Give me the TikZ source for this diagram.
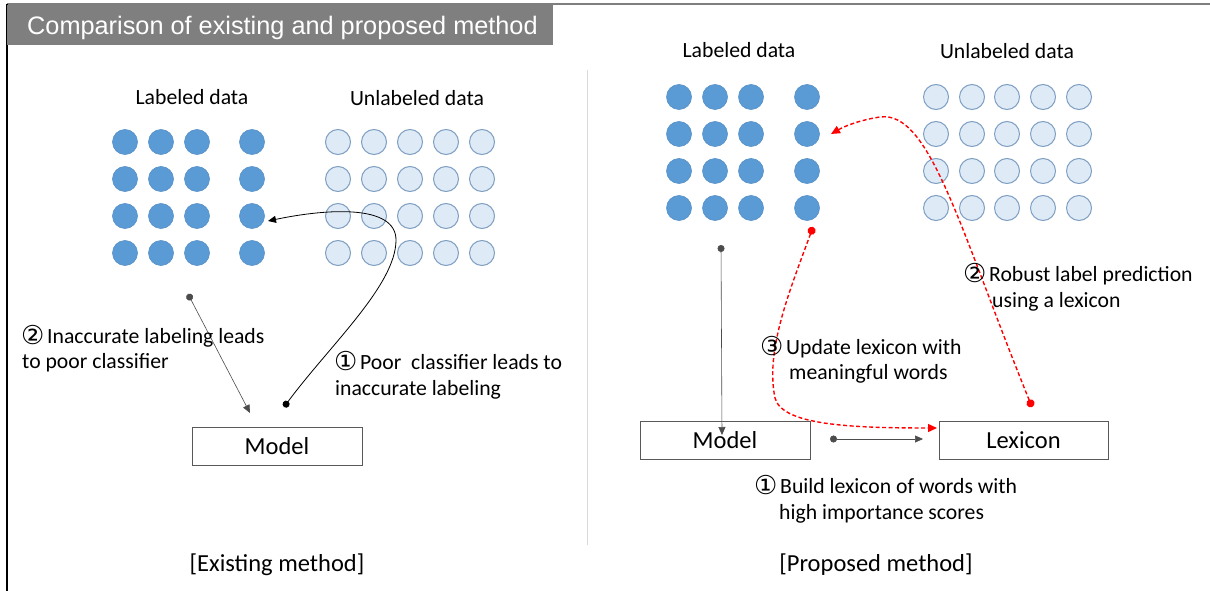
\documentclass[tikz,border=0pt]{standalone}
\usepackage{fontspec}
\setmainfont{Carlito}
\newfontfamily\titlefont{Liberation Sans}
\newfontfamily\symfont{DejaVu Sans}
\usetikzlibrary{arrows.meta}
\newcommand\circnum[1]{\makebox[26pt][l]{\raisebox{-1.5pt}{\symfont\fontsize{26}{28}\selectfont #1}}}
\definecolor{labfill}{HTML}{5B9BD5}
\definecolor{labdraw}{HTML}{5590C8}
\definecolor{unlfill}{HTML}{DEEBF7}
\definecolor{unldraw}{HTML}{7F9FC2}
\definecolor{titlegray}{HTML}{7F7F7F}
\definecolor{boxgray}{HTML}{595959}
\definecolor{divgray}{HTML}{D9D9D9}
\definecolor{redline}{HTML}{FF0000}
\begin{document}
\begin{tikzpicture}[x=1pt,y=-1pt,
  lab/.style={circle,minimum size=25pt,inner sep=0pt,fill=labfill,draw=labdraw,line width=0.6pt},
  unl/.style={circle,minimum size=25pt,inner sep=0pt,fill=unlfill,draw=unldraw,line width=1pt},
  boxnode/.style={draw=boxgray,line width=0.9pt,minimum width=170pt,minimum height=38pt,inner sep=0pt,font=\fontsize{24.5}{28}\selectfont},
  txt/.style={font=\fontsize{21.7}{26}\selectfont,inner sep=0pt,anchor=base west},
  head/.style={font=\fontsize{21.7}{26}\selectfont,inner sep=0pt,anchor=base},
  blk/.style={line width=0.8pt,black,{Circle[length=7pt]}-{Triangle[length=8pt,width=7pt]}},
  gry/.style={line width=0.6pt,black!70,{Circle[length=7pt]}-{Triangle[length=8pt,width=7pt]}},
  rdash/.style={line width=1.4pt,redline,dash pattern=on 4pt off 2.5pt,{Circle[length=8pt]}-{Triangle[length=9pt,width=8pt]}}
]
\useasboundingbox (0,0) rectangle (1210,591);
\fill[white] (0,0) rectangle (1210,591);
% frame
\draw[titlegray,line width=1.5pt] (7,4) -- (1210,4);
\draw[black,line width=1.2pt] (7,4) -- (7,591);
\fill[titlegray] (7,5) rectangle (553,45);
\node[inner sep=0pt,anchor=base west,text=white,font=\titlefont\fontsize{25.3}{30}\selectfont] (title) at (27,35) {Comparison of existing and proposed method};
\draw[divgray,line width=1pt] (587,70) -- (587,545);

% ---------------- left panel
\node[head] (lhl) at (192,105) {Labeled data};
\node[head] (lhu) at (417,106) {Unlabeled data};
\foreach \r/\y in {1/142,2/179,3/216,4/253}{
  \foreach \c/\x in {1/125,2/161,3/197,4/252}{
    \node[lab] (LL\r\c) at (\x,\y) {};
  }
  \foreach \c/\x in {1/338,2/374,3/410,4/446,5/482}{
    \node[unl] (LU\r\c) at (\x,\y) {};
  }
}
\node[boxnode] (lmodel) at (277,446.5) {Model};
\coordinate (la1) at (188,294);
\coordinate (la2) at (250,413);
\coordinate (lb1) at (284,407);
\coordinate (lbm) at (396,240);
\coordinate (lb2) at (268,221);
\draw[gry] (la1) -- (la2);
\draw[blk] (lb1) .. controls (330,345) and (396,285) .. (lbm) .. controls (396,205) and (330,208) .. (lb2);
\node[txt] (ll1) at (21,343) {\circnum{②}Inaccurate labeling leads};
\node[txt] (ll2) at (22,368) {to poor classifier};
\node[txt] (lr1) at (334,369) {\circnum{①}Poor~\ classifier leads to};
\node[txt] (lr2) at (335,395) {inaccurate labeling};
\node[head,font=\fontsize{24.5}{28}\selectfont] (lcap) at (277,571) {[Existing method]};

% ---------------- right panel
\node[head] (rhl) at (739,58) {Labeled data};
\node[head] (rhu) at (1007,59) {Unlabeled data};
\foreach \r/\y in {1/97,2/134,3/171,4/208}{
  \foreach \c/\x in {1/679,2/715,3/751,4/807}{
    \node[lab] (RL\r\c) at (\x,\y) {};
  }
  \foreach \c/\x in {1/936,2/972,3/1007,4/1043,5/1079}{
    \node[unl] (RU\r\c) at (\x,\y) {};
  }
}
\node[boxnode] (rmodel) at (725,440) {Model};
\node[boxnode,minimum width=169pt] (lex) at (1023.5,440) {Lexicon};
\coordinate (ra1) at (721,245);
\coordinate (ra2) at (722,435);
\draw[gry] (ra1) -- (ra2);
\coordinate (rb1) at (830,439);
\coordinate (rb2) at (923,439);
\draw[gry] (rb1) -- (rb2);
\coordinate (rc1) at (813,227);
\coordinate (rcm) at (775,398);
\coordinate (rc2) at (937,428);
\draw[rdash] (rc1) .. controls (790,290) and (765,350) .. (rcm) .. controls (782,425) and (850,428) .. (rc2);
\coordinate (rd1) at (1032,407);
\coordinate (rdm) at (880,117);
\coordinate (rd2) at (831,134);
\draw[rdash] (rd1) .. controls (960,230) and (930,110) .. (rdm) .. controls (860,120) and (845,126) .. (rd2);
\node[txt] (rr1) at (963,281) {\circnum{②}Robust label prediction};
\node[txt] (rr2) at (992,307) {using a lexicon};
\node[txt] (rm1) at (760,354) {\circnum{③}Update lexicon with};
\node[txt] (rm2) at (789,379) {meaningful words};
\node[txt] (rl1) at (754,493) {\circnum{①}Build lexicon of words with};
\node[txt] (rl2) at (779,519) {high importance scores};
\node[head,font=\fontsize{24.5}{28}\selectfont] (rcap) at (876,571) {[Proposed method]};
\end{tikzpicture}
\end{document}
